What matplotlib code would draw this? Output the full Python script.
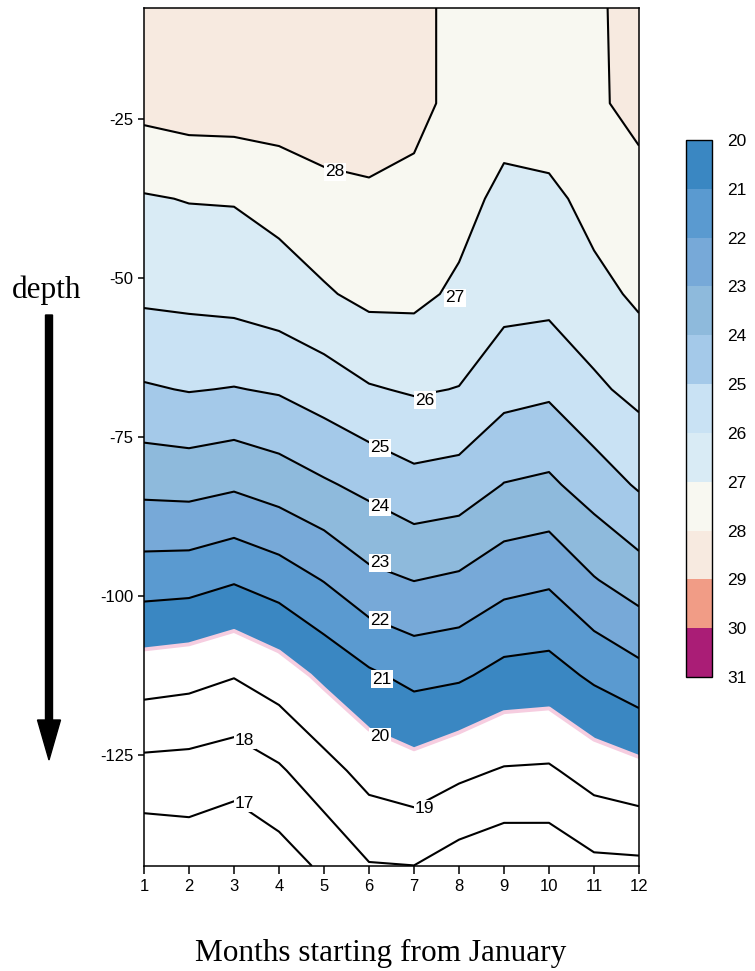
import numpy as np
import matplotlib
matplotlib.use('Agg')
import matplotlib.pyplot as plt
from matplotlib.patches import FancyArrow

plt.rcParams['axes.unicode_minus'] = False
plt.rcParams['font.family'] = ['Liberation Sans', 'DejaVu Sans']

# grid of the data: months and depth levels
months = np.arange(1, 13)
depths = np.array([-7.5, -22.5, -37.5, -52.5, -67.5, -82.5, -97.5, -112.5, -127.5, -142.5])

# temperature profile for each month, top to bottom
t_m01 = [28.50, 28.32, 26.92, 26.19, 24.90, 23.29, 21.45, 19.46, 17.66, 16.18]
t_m02 = [28.60, 28.48, 27.04, 26.25, 25.05, 23.35, 21.39, 19.33, 17.61, 16.36]
t_m03 = [28.60, 28.51, 27.06, 26.35, 24.96, 23.15, 21.09, 19.05, 17.43, 16.09]
t_m04 = [28.65, 28.56, 27.31, 26.57, 25.10, 23.47, 21.47, 19.51, 17.87, 16.51]
t_m05 = [28.65, 28.56, 27.72, 26.89, 25.48, 23.88, 22.04, 20.22, 18.63, 17.18]
t_m06 = [28.50, 28.35, 27.90, 27.25, 25.92, 24.26, 22.75, 20.84, 19.36, 17.94]
t_m07 = [28.35, 28.33, 27.70, 27.23, 26.10, 24.69, 23.02, 21.28, 19.63, 17.99]
t_m08 = [27.64, 27.66, 27.34, 26.83, 25.97, 24.56, 22.84, 21.15, 19.23, 17.53]
t_m09 = [27.60, 27.42, 26.75, 26.35, 25.34, 23.97, 22.34, 20.68, 18.92, 17.24]
t_m10 = [27.85, 27.77, 26.72, 26.31, 25.18, 23.82, 22.15, 20.60, 18.87, 17.28]
t_m11 = [27.87, 27.87, 27.38, 26.68, 25.82, 24.47, 22.94, 21.18, 19.43, 17.76]
t_m12 = [28.30, 28.24, 27.70, 27.18, 26.28, 25.12, 23.51, 21.67, 19.72, 17.79]

temp = np.array([t_m01, t_m02, t_m03, t_m04, t_m05, t_m06,
                 t_m07, t_m08, t_m09, t_m10, t_m11, t_m12]).T

fill_levels = np.arange(20, 32)
band_colors = ['#3a87c2', '#5a9ad0', '#77a9d8', '#8ebadc', '#a4c9e9', '#c9e2f4',
               '#d9ebf5', '#f8f8f1', '#f7eae0', '#f19c86', '#aa1d76']
line_levels = np.arange(17, 29)

# where the contour labels sit (month, depth)
label_pos = {28: (5.24, -33.3), 27: (7.91, -53.1), 26: (7.24, -69.2),
             25: (6.24, -76.7), 24: (6.24, -86.0), 23: (6.24, -94.8),
             22: (6.24, -103.8), 21: (6.29, -113.1), 20: (6.24, -122.2),
             19: (7.24, -133.5), 18: (3.24, -122.7), 17: (3.24, -132.6)}

fig = plt.figure(figsize=(7.55, 9.71), dpi=100)
ax = fig.add_axes([144/755, 1-866/971, 495/755, 858/971])

cf = ax.contourf(months, depths, temp, levels=fill_levels, colors=band_colors)
ax.contour(months, depths, temp, levels=[l for l in line_levels if l != 20],
           colors='black', linewidths=1.5)
ax.contour(months, depths, temp, levels=[20], colors='#f6cde0', linewidths=2.8)

for lev, (mx, dy) in label_pos.items():
    ax.text(mx, dy, str(lev), ha='center', va='center', fontsize=12.5, zorder=5,
            bbox=dict(facecolor='white', edgecolor='none', pad=1))

ax.set_xlim(1, 12)
ax.set_ylim(-142.5, -7.5)
ax.set_xticks(months)
ax.set_yticks([-25, -50, -75, -100, -125])
ax.tick_params(axis='x', length=6, width=1.1, pad=3, labelsize=12)
ax.tick_params(axis='y', length=4.5, width=1.1, pad=3, labelsize=12)
for sp in ax.spines.values():
    sp.set_linewidth(1.1)

# colour key
cax = fig.add_axes([686/755, 1-677/971, 26/755, 537/971])
cb = fig.colorbar(cf, cax=cax, drawedges=True)
cax.invert_yaxis()
cb.set_ticks(fill_levels)
cax.tick_params(length=0, labelsize=12.5, pad=11)
cb.outline.set_linewidth(1.0)
cb.dividers.set_linewidth(1.0)

# annotations in pixel space
over = fig.add_axes([0, 0, 1, 1], facecolor='none')
over.set_xlim(0, 755)
over.set_ylim(971, 0)
over.axis('off')
over.add_patch(FancyArrow(49, 315, 0, 445, width=7, head_width=23, head_length=40,
                          length_includes_head=True, color='black'))
over.text(47, 290, 'depth', ha='center', va='center', fontsize=22.5,
          family='Liberation Serif')
over.text(381, 953, 'Months starting from January', ha='center', va='center',
          fontsize=22.5, family='Liberation Serif')

fig.savefig('out.png', dpi=100)
